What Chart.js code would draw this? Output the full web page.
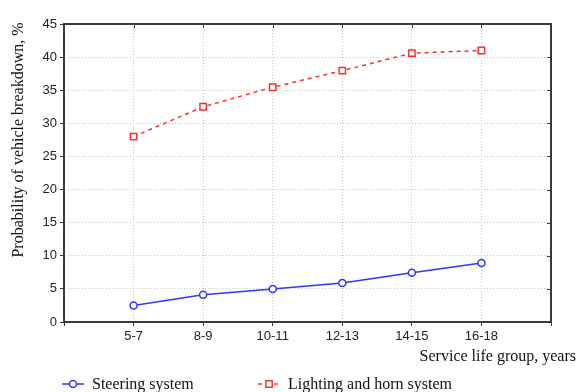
<!DOCTYPE html>
<html>
<head>
<meta charset="utf-8">
<script src="https://cdn.jsdelivr.net/npm/chart.js@4"></script>
<style>
  html, body { margin: 0; padding: 0; background: #fff; }
  #wrap { width: 577px; height: 392px; }
</style>
</head>
<body>
<div id="wrap"><canvas id="chart" width="577" height="392"></canvas></div>
<script>
// ── data ─────────────────────────────────────────────────────────────────────
const categories = ['5-7', '8-9', '10-11', '12-13', '14-15', '16-18'];
const steering   = [2.5, 4.1, 5.0, 5.9, 7.45, 8.9];
const lighting   = [28.0, 32.5, 35.45, 37.95, 40.6, 41.0];
const yTicks     = [0, 5, 10, 15, 20, 25, 30, 35, 40, 45];
const seriesNames = ['Steering system', 'Lighting and horn system'];
const xTitle = 'Service life group, years';
const yTitle = 'Probability of vehicle breakdown, %';

// empty slot either side so the groups sit inside the frame
const labels = ['', ...categories, ''];
const pad = arr => [null, ...arr, null];

const SANS  = '"Liberation Sans", Arial, sans-serif';
const SERIF = '"Liberation Serif", "Times New Roman", serif';
const AXIS  = '#3a3a3a';

// frame, inward ticks on top/right, axis titles, legend
const decor = {
  id: 'decor',
  afterDraw(chart) {
    const { ctx, chartArea: a, scales } = chart;
    ctx.save();
    ctx.strokeStyle = AXIS;
    ctx.lineWidth = 2;
    ctx.strokeRect(a.left, a.top, a.right - a.left, a.bottom - a.top);
    ctx.lineWidth = 1;
    ctx.beginPath();
    scales.x.ticks.forEach((t, i) => {
      const px = Math.round(scales.x.getPixelForTick(i)) + 0.5;
      ctx.moveTo(px, a.top); ctx.lineTo(px, a.top + 4);
    });
    scales.y.ticks.forEach((t, i) => {
      const py = Math.round(scales.y.getPixelForTick(i)) + 0.5;
      ctx.moveTo(a.right, py); ctx.lineTo(a.right - 4, py);
    });
    ctx.stroke();

    ctx.fillStyle = '#111';
    ctx.font = '16px ' + SERIF;
    ctx.textAlign = 'right';
    ctx.textBaseline = 'alphabetic';
    ctx.fillText(xTitle, 576, 361);

    ctx.save();
    ctx.translate(23, 140);
    ctx.rotate(-Math.PI / 2);
    ctx.textAlign = 'center';
    ctx.fillText(yTitle, 0, 0);
    ctx.restore();

    // legend
    const starts = [62, 258];
    const ly = 384;
    chart.data.datasets.forEach((ds, i) => {
      const x0 = starts[i];
      ctx.save();
      ctx.strokeStyle = ds.borderColor;
      ctx.lineWidth = ds.borderWidth;
      ctx.setLineDash(ds.borderDash || []);
      ctx.beginPath();
      ctx.moveTo(x0, ly); ctx.lineTo(x0 + 22, ly);
      ctx.stroke();
      ctx.setLineDash([]);
      ctx.fillStyle = ds.pointBackgroundColor;
      ctx.strokeStyle = ds.pointBorderColor;
      ctx.lineWidth = ds.pointBorderWidth;
      Chart.helpers.drawPoint(ctx, { pointStyle: ds.pointStyle, radius: ds.pointRadius, rotation: 0, borderWidth: ds.pointBorderWidth }, x0 + 11, ly);
      ctx.restore();
      ctx.fillStyle = '#111';
      ctx.font = '16px ' + SERIF;
      ctx.textAlign = 'left';
      ctx.textBaseline = 'middle';
      ctx.fillText(ds.label, x0 + 30, ly + 1);
    });
    ctx.restore();
  }
};

const gridOpts = { color: '#c4c4c4', tickLength: 4, tickColor: AXIS, tickBorderDash: [] };
const borderOpts = { display: false, dash: [1, 2] };

new Chart(document.getElementById('chart'), {
  type: 'line',
  data: {
    labels,
    datasets: [
      { label: seriesNames[0], data: pad(steering), borderColor: '#3434ff', borderWidth: 1.5,
        pointStyle: 'circle', pointRadius: 3.5, pointBorderWidth: 1.5,
        pointBackgroundColor: '#fff', pointBorderColor: '#3434ff', tension: 0 },
      { label: seriesNames[1], data: pad(lighting), borderColor: '#ff2e2e', borderWidth: 1.5, borderDash: [4, 4],
        pointStyle: 'rect', pointRadius: 4.5, pointBorderWidth: 1.5,
        pointBackgroundColor: '#fff', pointBorderColor: '#ff2e2e', tension: 0 }
    ]
  },
  options: {
    responsive: false,
    animation: false,
    layout: { padding: { top: 24, right: 26, left: 0, bottom: 0 } },
    plugins: { legend: { display: false }, tooltip: { enabled: false } },
    scales: {
      x: {
        offset: false,
        afterFit: s => { s.height = 70; },
        border: borderOpts,
        grid: gridOpts,
        ticks: { color: '#222', font: { family: SANS, size: 13 }, padding: 3, maxRotation: 0, autoSkip: false }
      },
      y: {
        min: 0, max: 45,
        afterFit: s => { s.width = 64; },
        afterBuildTicks: s => { s.ticks = yTicks.map(v => ({ value: v })); },
        border: borderOpts,
        grid: gridOpts,
        ticks: { color: '#222', font: { family: SANS, size: 13 }, padding: 3 }
      }
    }
  },
  plugins: [decor]
});
</script>
</body>
</html>
